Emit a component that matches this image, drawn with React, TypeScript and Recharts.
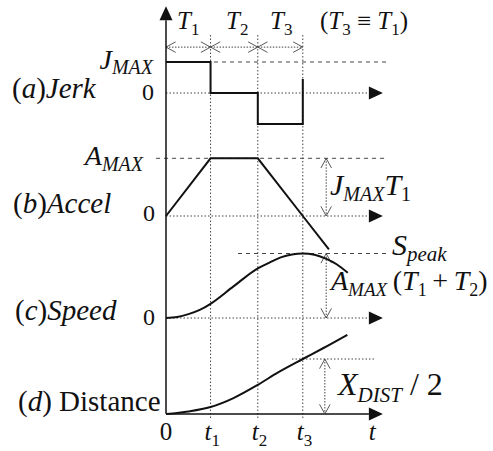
import React from "react";
import { ComposedChart, Line, XAxis, YAxis, ReferenceLine } from "recharts";

const W = 493;
const H = 451;
const PLOT_H = 426;
const ORIGIN_X = 166;
const PX_PER_T = 45;
const SERIF = "'Liberation Serif', 'Times New Roman', serif";
const INK = "#111";
const GUIDE = "#444";

// switching instants, T3 = T1
const switchTimes = [0.99, 2.04, 3.04];
const tickTimes = [0, 0.99, 2.04, 3.04, 4.64];
const tickLabels = ["0", "1", "2", "3", ""];

// (a) jerk, in units of J_MAX
const jerkT = [0, 0.99, 0.99, 2.04, 2.04, 3.04, 3.04];
const jerkV = [1, 1, 0, 0, -1, -1, 0.45];

// (b) acceleration, in units of A_MAX
const accelT = [0, 0.99, 2.04, 3.04, 3.62];
const accelV = [0, 1, 1, 0, -0.58];

// (c) speed, in units of S_peak
const speedT = [0, 0.25, 0.5, 0.75, 0.99, 1.5, 2.04, 2.3, 2.55, 2.8, 3.04, 3.3, 3.55, 3.8, 4.04];
const speedV = [0, 0.015, 0.06, 0.125, 0.22, 0.49, 0.77, 0.86, 0.94, 0.985, 1, 0.98, 0.92, 0.83, 0.7];

// (d) distance, in units of X_DIST / 2
const distT = [0, 0.5, 0.99, 1.5, 2.04, 2.5, 3.04, 3.5, 4.03];
const distV = [0, 0.047, 0.127, 0.29, 0.53, 0.76, 1, 1.2, 1.44];

const zip = (ts: number[], vs: number[]) => ts.map((t, i) => ({ t, v: vs[i] }));

// each panel gets its own hidden y axis: zero line position and px per unit
const panelDomain = (zeroPx: number, unitPx: number): [number, number] => [
  -(PLOT_H - zeroPx) / unitPx,
  zeroPx / unitPx,
];

const xDomain: [number, number] = [-ORIGIN_X / PX_PER_T, (W - ORIGIN_X) / PX_PER_T];
const axisEnd = 4.9;
const dimX = 3.56;

const AxisArrow = (props: any) => {
  const { x1, y1, x2, y2, stroke, strokeWidth, strokeDasharray } = props;
  const a = Math.atan2(y2 - y1, x2 - x1);
  const len = 14;
  const hw = 6.5;
  const bx = x2 - len * Math.cos(a);
  const by = y2 - len * Math.sin(a);
  const nx = -Math.sin(a) * hw;
  const ny = Math.cos(a) * hw;
  return (
    <g>
      <line x1={x1} y1={y1} x2={bx} y2={by} stroke={stroke} strokeWidth={strokeWidth} strokeDasharray={strokeDasharray} />
      <polygon points={`${x2},${y2} ${bx + nx},${by + ny} ${bx - nx},${by - ny}`} fill={INK} />
    </g>
  );
};

const DimArrow = (props: any) => {
  const { x1, y1, x2, y2 } = props;
  const a = Math.atan2(y2 - y1, x2 - x1);
  const len = 11;
  const spread = 0.5;
  const head = (x: number, y: number, dir: number) => {
    const p1x = x + dir * len * Math.cos(a + spread);
    const p1y = y + dir * len * Math.sin(a + spread);
    const p2x = x + dir * len * Math.cos(a - spread);
    const p2y = y + dir * len * Math.sin(a - spread);
    return <polyline points={`${p1x},${p1y} ${x},${y} ${p2x},${p2y}`} fill="none" stroke={GUIDE} strokeWidth={0.9} />;
  };
  return (
    <g>
      <line x1={x1} y1={y1} x2={x2} y2={y2} stroke={GUIDE} strokeWidth={1} strokeDasharray="1.5 1.5" />
      {head(x1, y1, 1)}
      {head(x2, y2, -1)}
    </g>
  );
};

const TimeTick = (props: any) => {
  const { x, payload } = props;
  const i = tickTimes.indexOf(payload.value);
  const sub = tickLabels[i];
  if (i === 0) {
    return (
      <text x={x} y={440} textAnchor="middle" fontFamily={SERIF} fontSize={25} fill={INK}>0</text>
    );
  }
  return (
    <text x={x - 6} y={440} fontFamily={SERIF} fontSize={25} fill={INK}>
      <tspan fontStyle="italic">t</tspan>
      {sub && <tspan fontSize={17} dy={6}>{sub}</tspan>}
    </text>
  );
};

const Sub = ({ children, size = 20, dy = 6 }: any) => (
  <tspan fontSize={size} dy={dy} fontStyle="italic">{children}</tspan>
);

const Labels = () => (
  <svg width={W} height={H} style={{ position: "absolute", left: 0, top: 0, pointerEvents: "none" }} fontFamily={SERIF} fill={INK}>
    {/* phase durations */}
    <text x={177} y={29} fontSize={25} fontStyle="italic">T<tspan fontSize={17} dy={6} fontStyle="normal">1</tspan></text>
    <text x={226} y={29} fontSize={25} fontStyle="italic">T<tspan fontSize={17} dy={6} fontStyle="normal">2</tspan></text>
    <text x={270} y={29} fontSize={25} fontStyle="italic">T<tspan fontSize={17} dy={6} fontStyle="normal">3</tspan></text>
    <text x={320} y={29} fontSize={25}>
      (<tspan fontStyle="italic">T</tspan><tspan fontSize={17} dy={6}>3</tspan>
      <tspan dy={-6}> ≡ </tspan><tspan fontStyle="italic">T</tspan><tspan fontSize={17} dy={6}>1</tspan><tspan dy={-6}>)</tspan>
    </text>

    {/* level labels */}
    <text x={153} y={69} fontSize={28} textAnchor="end" fontStyle="italic">J<Sub size={20} dy={5}>MAX</Sub></text>
    <text x={143} y={165} fontSize={28} textAnchor="end" fontStyle="italic">A<Sub size={20}>MAX</Sub></text>
    <text x={154} y={100} fontSize={24} textAnchor="end">0</text>
    <text x={155} y={221} fontSize={24} textAnchor="end">0</text>
    <text x={155} y={325} fontSize={24} textAnchor="end">0</text>

    {/* panel titles */}
    <text x={12} y={98} fontSize={29}>(<tspan fontStyle="italic">a</tspan>)<tspan fontStyle="italic">Jerk</tspan></text>
    <text x={13} y={213} fontSize={29}>(<tspan fontStyle="italic">b</tspan>)<tspan fontStyle="italic">Accel</tspan></text>
    <text x={15} y={320} fontSize={29}>(<tspan fontStyle="italic">c</tspan>)<tspan fontStyle="italic">Speed</tspan></text>
    <text x={18} y={411} fontSize={29}>(<tspan fontStyle="italic">d</tspan>) Distance</text>

    {/* dimension annotations */}
    <text x={330} y={195} fontSize={30} fontStyle="italic">
      J<Sub size={20}>MAX</Sub><tspan dy={-6}>T</tspan><tspan fontSize={20} dy={6} fontStyle="normal">1</tspan>
    </text>
    <text x={392} y={255} fontSize={30} fontStyle="italic">S<Sub size={21}>peak</Sub></text>
    <text x={331} y={290} fontSize={28}>
      <tspan fontStyle="italic">A</tspan><Sub size={19}>MAX</Sub>
      <tspan dy={-6}>{"\u2009("}</tspan><tspan fontStyle="italic">T</tspan><tspan fontSize={18} dy={6}>1</tspan>
      <tspan dy={-6}>{"\u2009+\u2009"}</tspan><tspan fontStyle="italic">T</tspan><tspan fontSize={18} dy={6}>2</tspan><tspan dy={-6}>)</tspan>
    </text>
    <text x={338} y={395} fontSize={32}>
      <tspan fontStyle="italic">X</tspan><Sub size={21} dy={7}>DIST</Sub><tspan dy={-7}> / 2</tspan>
    </text>
  </svg>
);

export default function App() {
  const guide = { stroke: GUIDE, strokeWidth: 1, strokeDasharray: "1.5 2" };
  const dashed = { stroke: GUIDE, strokeWidth: 1, strokeDasharray: "4 4" };
  return (
    <div style={{ position: "fixed", left: 0, top: 0, width: W, height: H, background: "#fff" }}>
      <ComposedChart width={W} height={H} margin={{ top: 0, right: 0, bottom: 0, left: 0 }}>
        <XAxis
          type="number"
          dataKey="t"
          domain={xDomain}
          allowDataOverflow
          ticks={tickTimes}
          tick={<TimeTick />}
          axisLine={false}
          tickLine={false}
          height={25}
        />
        <YAxis yAxisId="jerk" hide type="number" domain={panelDomain(93, 31)} allowDataOverflow />
        <YAxis yAxisId="accel" hide type="number" domain={panelDomain(216, 57.7)} allowDataOverflow />
        <YAxis yAxisId="speed" hide type="number" domain={panelDomain(318, 64.5)} allowDataOverflow />
        <YAxis yAxisId="dist" hide type="number" domain={panelDomain(414, 55)} allowDataOverflow />

        {/* switching-instant guides */}
        {switchTimes.map((t) => (
          <ReferenceLine key={t} yAxisId="jerk" segment={[{ x: t, y: 1.87 }, { x: t, y: -10.55 }]} {...guide} />
        ))}

        {/* phase duration spans */}
        <ReferenceLine yAxisId="jerk" segment={[{ x: 0, y: 1.48 }, { x: switchTimes[0], y: 1.48 }]} shape={DimArrow} />
        <ReferenceLine yAxisId="jerk" segment={[{ x: switchTimes[0], y: 1.48 }, { x: switchTimes[1], y: 1.48 }]} shape={DimArrow} />
        <ReferenceLine yAxisId="jerk" segment={[{ x: switchTimes[1], y: 1.48 }, { x: switchTimes[2], y: 1.48 }]} shape={DimArrow} />

        {/* level lines */}
        <ReferenceLine yAxisId="jerk" segment={[{ x: 0, y: 1 }, { x: axisEnd, y: 1 }]} {...dashed} />
        <ReferenceLine yAxisId="accel" segment={[{ x: -0.22, y: 1 }, { x: axisEnd, y: 1 }]} {...dashed} />
        <ReferenceLine yAxisId="speed" segment={[{ x: 1.6, y: 1 }, { x: axisEnd, y: 1 }]} {...dashed} />
        <ReferenceLine yAxisId="dist" segment={[{ x: 2.8, y: 1 }, { x: 4.64, y: 1 }]} {...guide} />

        {/* time axes */}
        <ReferenceLine yAxisId="jerk" segment={[{ x: 0, y: 0 }, { x: 4.82, y: 0 }]} shape={AxisArrow} {...guide} />
        <ReferenceLine yAxisId="accel" segment={[{ x: 0, y: 0 }, { x: 4.82, y: 0 }]} shape={AxisArrow} {...guide} />
        <ReferenceLine yAxisId="speed" segment={[{ x: 0, y: 0 }, { x: 4.82, y: 0 }]} shape={AxisArrow} {...guide} />
        <ReferenceLine yAxisId="dist" segment={[{ x: 0, y: 0 }, { x: 4.82, y: 0 }]} shape={AxisArrow} stroke={INK} strokeWidth={1.5} />
        <ReferenceLine yAxisId="jerk" segment={[{ x: 0, y: -10.35 }, { x: 0, y: 2.8 }]} shape={AxisArrow} stroke={INK} strokeWidth={1.5} />

        {/* dimension arrows */}
        <ReferenceLine yAxisId="accel" segment={[{ x: dimX, y: 1 }, { x: dimX, y: 0 }]} shape={DimArrow} />
        <ReferenceLine yAxisId="speed" segment={[{ x: dimX, y: 1 }, { x: dimX, y: 0 }]} shape={DimArrow} />
        <ReferenceLine yAxisId="dist" segment={[{ x: dimX - 0.03, y: 1 }, { x: dimX - 0.03, y: 0 }]} shape={DimArrow} />

        <Line yAxisId="jerk" data={zip(jerkT, jerkV)} dataKey="v" type="linear" stroke={INK} strokeWidth={2} dot={false} activeDot={false} isAnimationActive={false} />
        <Line yAxisId="accel" data={zip(accelT, accelV)} dataKey="v" type="linear" stroke={INK} strokeWidth={2} dot={false} activeDot={false} isAnimationActive={false} />
        <Line yAxisId="speed" data={zip(speedT, speedV)} dataKey="v" type="monotone" stroke={INK} strokeWidth={2} dot={false} activeDot={false} isAnimationActive={false} />
        <Line yAxisId="dist" data={zip(distT, distV)} dataKey="v" type="monotone" stroke={INK} strokeWidth={2} dot={false} activeDot={false} isAnimationActive={false} />
      </ComposedChart>
      <Labels />
    </div>
  );
}
